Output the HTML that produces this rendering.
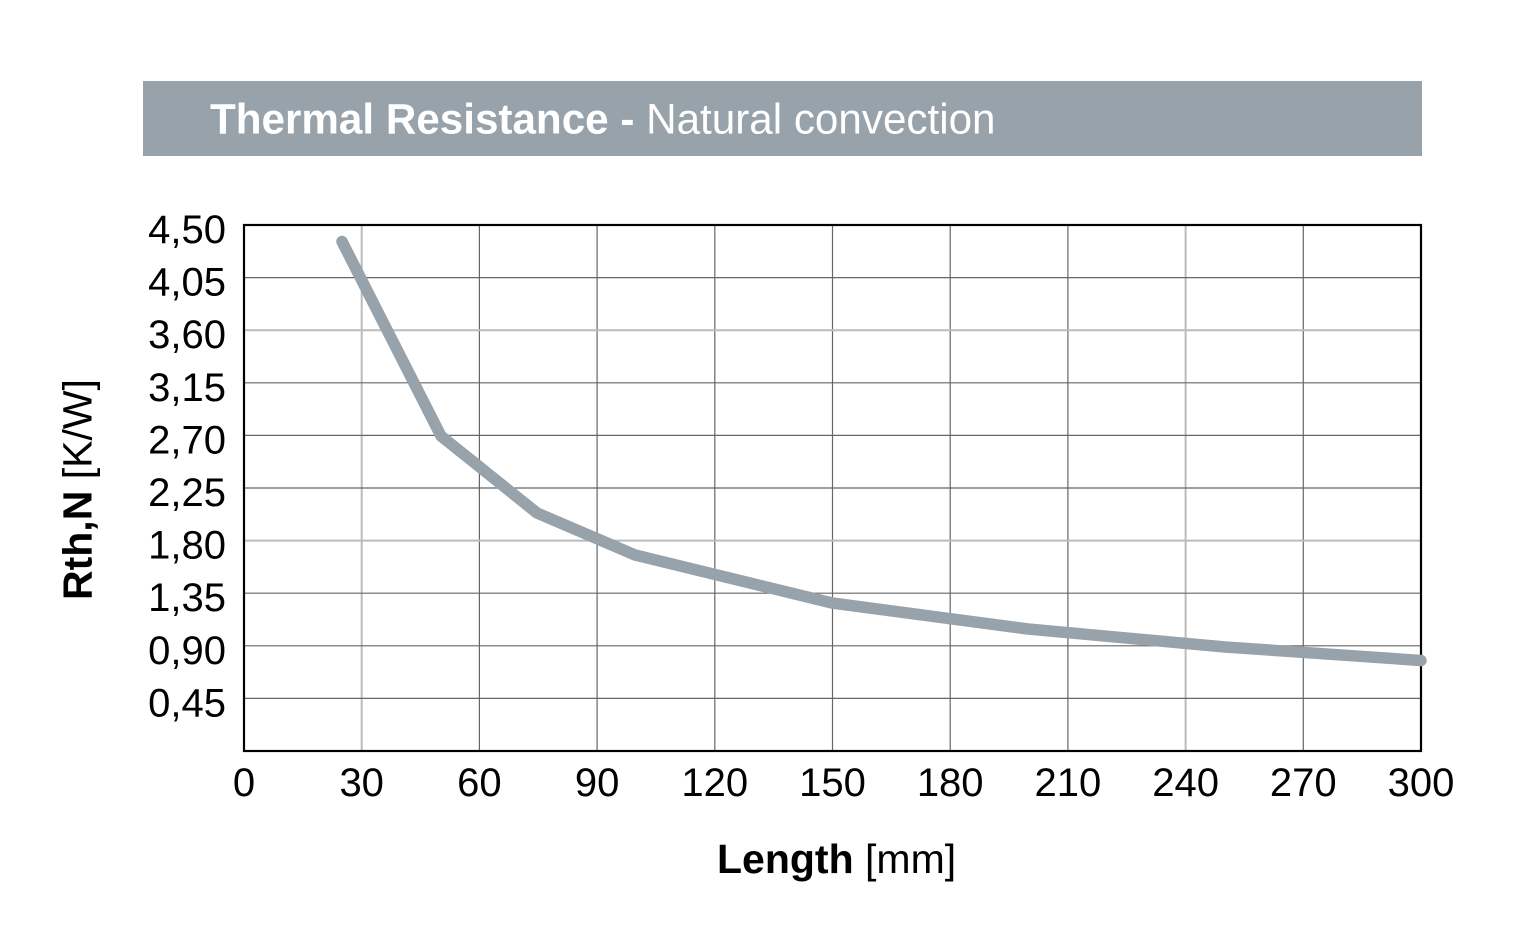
<!DOCTYPE html>
<html>
<head>
<meta charset="utf-8">
<style>
  html, body { margin: 0; padding: 0; background: #ffffff; }
  body { width: 1526px; height: 947px; overflow: hidden; }
  svg { display: block; }
  text { font-family: "Liberation Sans", Arial, sans-serif; fill: #000; }
</style>
</head>
<body>
<svg width="1526" height="947" viewBox="0 0 1526 947" xmlns="http://www.w3.org/2000/svg">
  <rect x="0" y="0" width="1526" height="947" fill="#ffffff"/>
  <!-- Header bar -->
  <rect x="143" y="81" width="1279" height="75" fill="#97a2aa"/>
  <text x="210" y="133.5" font-size="42.2" style="fill:#ffffff"><tspan font-weight="bold">Thermal Resistance - </tspan><tspan>Natural convection</tspan></text>

  <!-- Grid lines vertical -->
  <g stroke-width="1.2">
    <line x1="361.7" y1="225" x2="361.7" y2="751" stroke="#bbbbbb" stroke-width="2"/>
    <line x1="479.4" y1="225" x2="479.4" y2="751" stroke="#666"/>
    <line x1="597.1" y1="225" x2="597.1" y2="751" stroke="#666"/>
    <line x1="714.8" y1="225" x2="714.8" y2="751" stroke="#666"/>
    <line x1="832.5" y1="225" x2="832.5" y2="751" stroke="#666"/>
    <line x1="950.2" y1="225" x2="950.2" y2="751" stroke="#666"/>
    <line x1="1067.9" y1="225" x2="1067.9" y2="751" stroke="#666"/>
    <line x1="1185.6" y1="225" x2="1185.6" y2="751" stroke="#bbbbbb" stroke-width="2"/>
    <line x1="1303.3" y1="225" x2="1303.3" y2="751" stroke="#666"/>
  </g>
  <!-- Grid lines horizontal -->
  <g stroke-width="1.2">
    <line x1="244" y1="277.6" x2="1421" y2="277.6" stroke="#666"/>
    <line x1="244" y1="330.2" x2="1421" y2="330.2" stroke="#bbbbbb" stroke-width="2"/>
    <line x1="244" y1="382.8" x2="1421" y2="382.8" stroke="#666"/>
    <line x1="244" y1="435.4" x2="1421" y2="435.4" stroke="#666"/>
    <line x1="244" y1="488" x2="1421" y2="488" stroke="#666"/>
    <line x1="244" y1="540.6" x2="1421" y2="540.6" stroke="#bbbbbb" stroke-width="2"/>
    <line x1="244" y1="593.2" x2="1421" y2="593.2" stroke="#666"/>
    <line x1="244" y1="645.8" x2="1421" y2="645.8" stroke="#666"/>
    <line x1="244" y1="698.4" x2="1421" y2="698.4" stroke="#666"/>
  </g>

  <!-- Plot frame -->
  <rect x="244" y="225" width="1177" height="526" fill="none" stroke="#000" stroke-width="2.2"/>

  <!-- Data series -->
  <polyline points="342,241.5 441,436 537,513 635,555 832,603 1028,629 1225,647 1421,660.5"
            fill="none" stroke="#97a2aa" stroke-width="11.5" stroke-linecap="round" stroke-linejoin="round"/>

  <!-- Y tick labels -->
  <g font-size="40" text-anchor="end">
    <text x="226" y="243">4,50</text>
    <text x="226" y="295.6">4,05</text>
    <text x="226" y="348.2">3,60</text>
    <text x="226" y="400.8">3,15</text>
    <text x="226" y="453.4">2,70</text>
    <text x="226" y="506">2,25</text>
    <text x="226" y="558.6">1,80</text>
    <text x="226" y="611.2">1,35</text>
    <text x="226" y="663.8">0,90</text>
    <text x="226" y="716.4">0,45</text>
  </g>

  <!-- X tick labels -->
  <g font-size="40" text-anchor="middle">
    <text x="244" y="796">0</text>
    <text x="361.7" y="796">30</text>
    <text x="479.4" y="796">60</text>
    <text x="597.1" y="796">90</text>
    <text x="714.8" y="796">120</text>
    <text x="832.5" y="796">150</text>
    <text x="950.2" y="796">180</text>
    <text x="1067.9" y="796">210</text>
    <text x="1185.6" y="796">240</text>
    <text x="1303.3" y="796">270</text>
    <text x="1421" y="796">300</text>
  </g>

  <!-- Axis titles -->
  <text x="717" y="873" font-size="41"><tspan font-weight="bold">Length</tspan><tspan> [mm]</tspan></text>
  <text transform="translate(91.5,600) rotate(-90)" x="0" y="0" font-size="41"><tspan font-weight="bold">Rth,N</tspan><tspan> [K/W]</tspan></text>
</svg>
</body>
</html>
